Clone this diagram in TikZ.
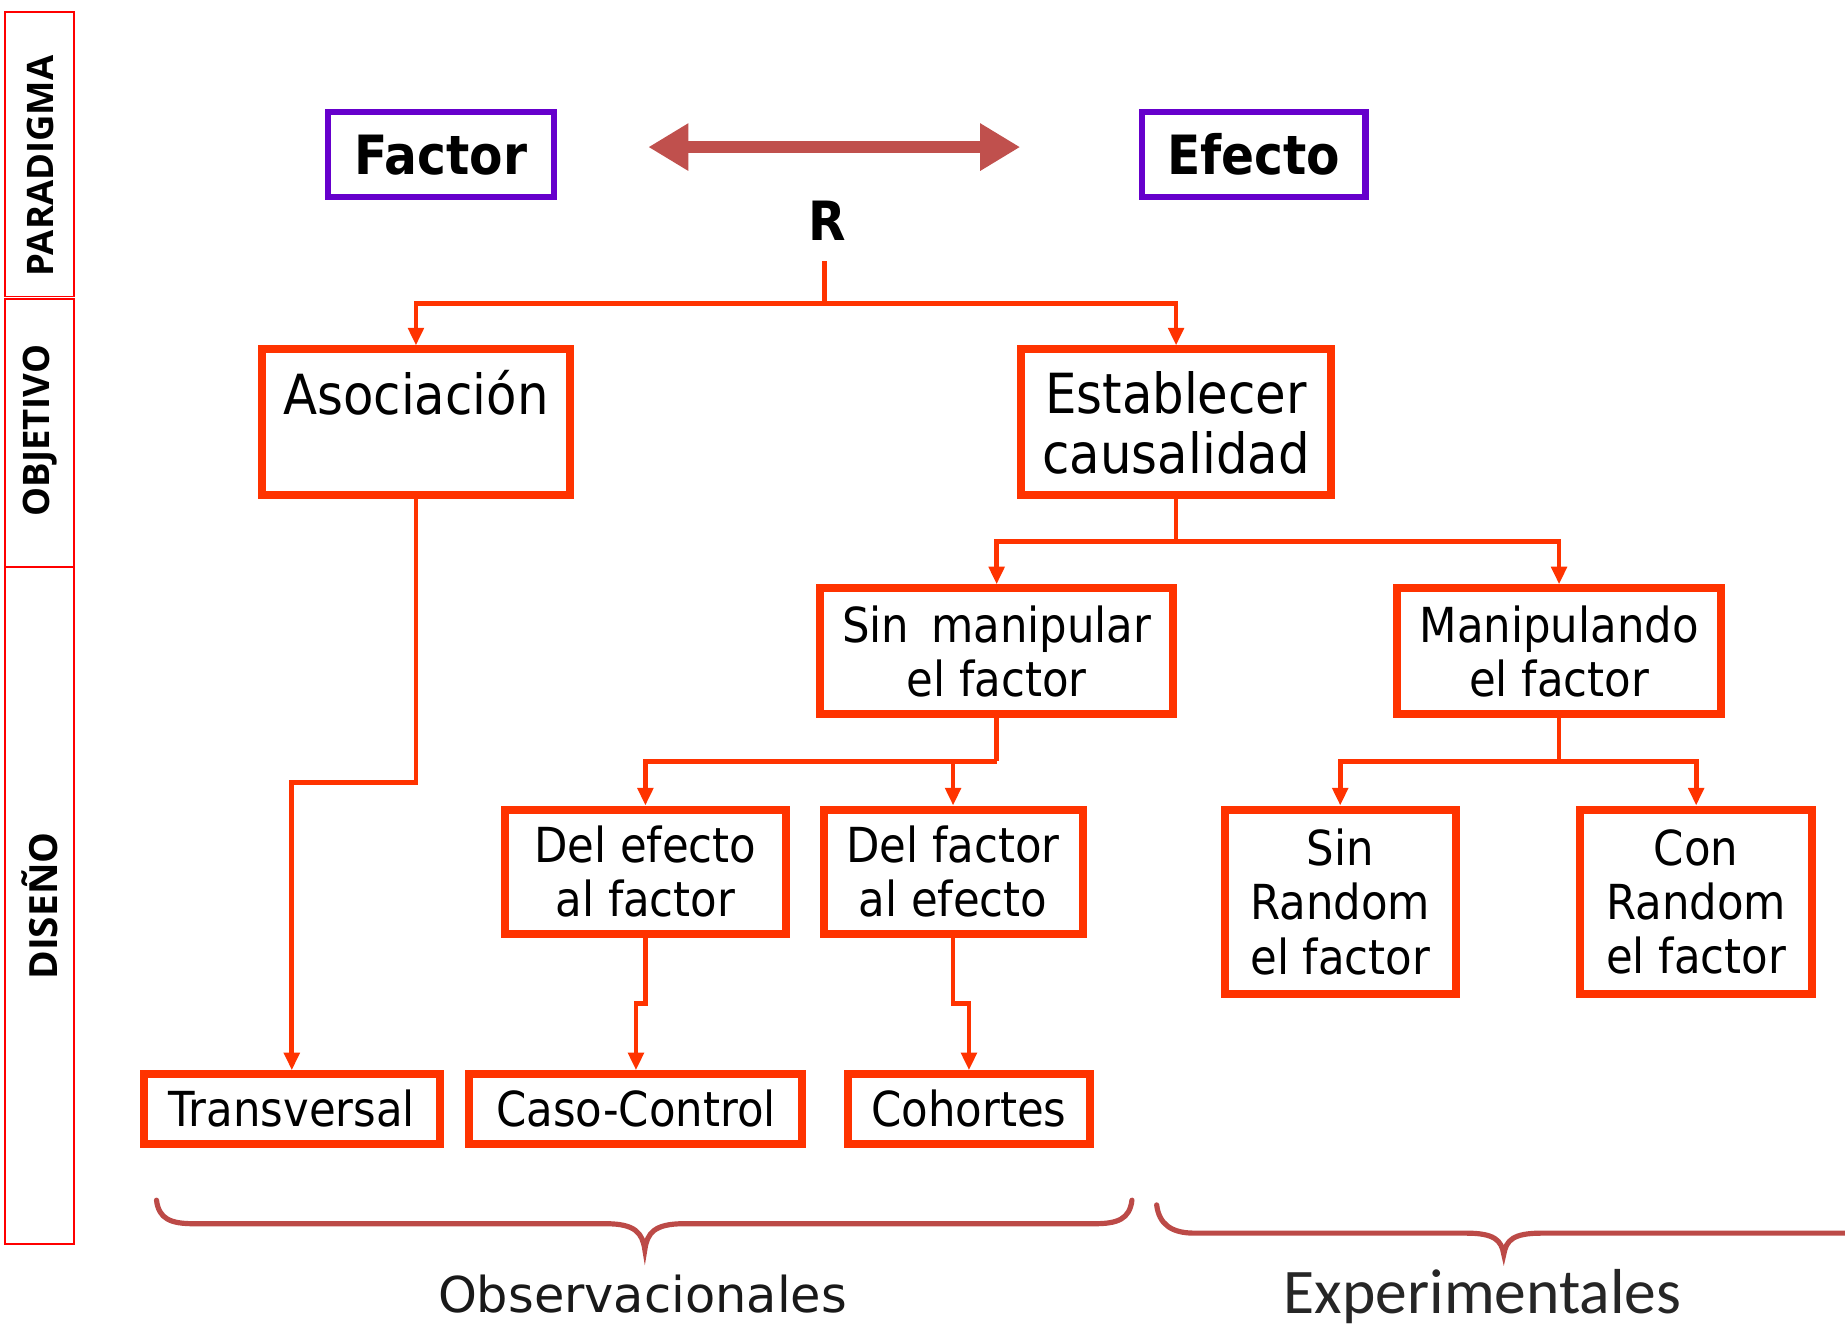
\documentclass[tikz,border=0pt]{standalone}
\usepackage{fontspec}
\setmainfont{DejaVu Sans}
\newfontfamily\boxfont[FakeStretch=0.9]{DejaVu Sans}
\newfontfamily\obsfont{DejaVu Sans}
\newfontfamily\sidefont{Open Sans}
\newfontfamily\calfont{Carlito}
\usetikzlibrary{arrows.meta,calc}
\definecolor{boxred}{HTML}{FF3300}
\definecolor{purp}{HTML}{6600CC}
\definecolor{arrcol}{HTML}{C0504D}
\definecolor{bracecol}{HTML}{BC4A47}
\definecolor{sidered}{HTML}{FF0000}
\begin{document}
\begin{tikzpicture}[x=0.5pt,y=-0.5pt,
  rbox/.style={draw=boxred, line width=3.4pt, inner sep=0pt, align=center, text=black,
    font=\boxfont\fontsize{20.5}{23}\selectfont},
  bigbox/.style={rbox, font=\boxfont\fontsize{23.5}{25.5}\selectfont},
  pbox/.style={draw=purp, line width=2.6pt, inner sep=0pt, text=black,
    font=\boxfont\bfseries\fontsize{23}{27}\selectfont},
  conn/.style={draw=boxred, line width=2pt},
  arr/.style={conn, -{Triangle[width=6.5pt,length=7.5pt]}},
  sidebox/.style={draw=sidered, line width=0.75pt},
  sidelab/.style={rotate=90, inner sep=0pt, text=black, font=\sidefont\bfseries\fontsize{15.5}{18}\selectfont},
  brace/.style={draw=bracecol, line width=2.2pt, line cap=round}
]
\useasboundingbox (0,0) rectangle (1568,1127);
\fill[white] (0,0) rectangle (1568,1127);

% side panels
\draw[sidebox] (4,10) rectangle (63,252);
\draw[sidebox] (4,254) rectangle (63,482);
\draw[sidebox] (4,482) rectangle (63,1057);
\node[sidelab] (lpar) at (34,141) {PARADIGMA};
\node[sidelab] (lobj) at (34,366) {OBJETIVO};
\node[sidelab, font=\sidefont\bfseries\fontsize{16.5}{18}\selectfont] (ldis) at (34,770) {DISEÑO};

% paradigm
\node[pbox, minimum width=96pt, minimum height=36pt] (factor) at (374.5,131.5) {Factor};
\node[pbox, minimum width=95pt, minimum height=36pt] (efecto) at (1065.5,131.5) {Efecto};
\coordinate (la) at (551,125);
\coordinate (ra) at (867,125);
\draw[draw=arrcol, line width=5pt, {Triangle[width=19pt,length=17pt]}-{Triangle[width=19pt,length=17pt]}] (la) -- (ra);
\node[inner sep=0pt, font=\boxfont\bfseries\fontsize{23}{27}\selectfont] (R) at (703,188) {R};

% objective
\node[bigbox, minimum width=130.5pt, minimum height=62pt] (asoc) at (353.5,359) {Asociación\\\mbox{}};
\node[bigbox, minimum width=131.5pt, minimum height=62pt] (estab) at (999.5,359) {Establecer\\causalidad};

% design level 1
\node[rbox, minimum width=150pt, minimum height=53.5pt] (sinm) at (847,553.5) {Sin\, manipular\\el factor};
\node[rbox, minimum width=138pt, minimum height=53.5pt] (manip) at (1325,553.5) {Manipulando\\el factor};

% design level 2
\node[rbox, minimum width=119.5pt, minimum height=53pt] (defa) at (548.5,741) {Del efecto\\al factor};
\node[rbox, minimum width=110pt, minimum height=53pt] (dfae) at (810,741) {Del factor\\al efecto};
\node[rbox, minimum width=98pt, minimum height=78.5pt] (sinr) at (1139,766.5) {Sin\\Random\\el factor};
\node[rbox, minimum width=98.5pt, minimum height=78.5pt] (conr) at (1441.5,766.5) {Con\\Random\\el factor};

% design level 3
\node[rbox, minimum width=126pt, minimum height=29.5pt] (trans) at (248,942.5) {Transversal};
\node[rbox, minimum width=141.5pt, minimum height=29.5pt] (caso) at (540.5,942.5) {Caso-Control};
\node[rbox, minimum width=102.5pt, minimum height=29.5pt] (coh) at (823.5,942.5) {Cohortes};

% connectors
\coordinate (rstem) at (701,222);
\coordinate (j1) at (701,258);
\draw[conn] (rstem) -- (j1);
\draw[arr] (j1) -| (asoc.north);
\draw[arr] (j1) -| (estab.north);

\coordinate (kA) at (353.5,665);
\draw[arr] (asoc.south) -- (kA) -| (trans.north);

\coordinate (j2) at (999.5,460);
\draw[conn] (estab.south) -- (j2);
\draw[arr] (j2) -| (sinm.north);
\draw[arr] (j2) -| (manip.north);

\coordinate (j3) at (847,647);
\draw[conn] (sinm.south) -- (j3);
\draw[arr] (j3) -| (defa.north);
\draw[arr] (j3) -| (dfae.north);

\coordinate (j4) at (1325,647);
\draw[conn] (manip.south) -- (j4);
\draw[arr] (j4) -| (sinr.north);
\draw[arr] (j4) -| (conr.north);

\coordinate (ka) at (548.5,853);
\draw[arr] (defa.south) -- (ka) -| (caso.north);
\coordinate (kb) at (810,853);
\draw[arr] (dfae.south) -- (kb) -| (coh.north);

% braces
\draw[brace] (133,1020) .. controls (135,1036) and (145,1040) .. (165,1040) -- (515,1040)
  .. controls (540,1040) and (546,1048) .. (548,1062)
  .. controls (550,1048) and (556,1040) .. (581,1040) -- (930,1040)
  .. controls (950,1040) and (960,1036) .. (962,1020);
\draw[brace] (983,1024) .. controls (985,1040) and (995,1048) .. (1015,1048) -- (1246,1048)
  .. controls (1270,1048) and (1276,1054) .. (1278,1066)
  .. controls (1280,1054) and (1286,1048) .. (1310,1048) -- (1568,1048);

\node[inner sep=0pt, font=\obsfont\fontsize{21}{24}\selectfont, text=black!90] (obs) at (546,1100) {Observacionales};
\node[inner sep=0pt, font=\calfont\fontsize{27}{30}\selectfont, text=black!85] (exp) at (1260,1102) {Experimentales};
\end{tikzpicture}
\end{document}
